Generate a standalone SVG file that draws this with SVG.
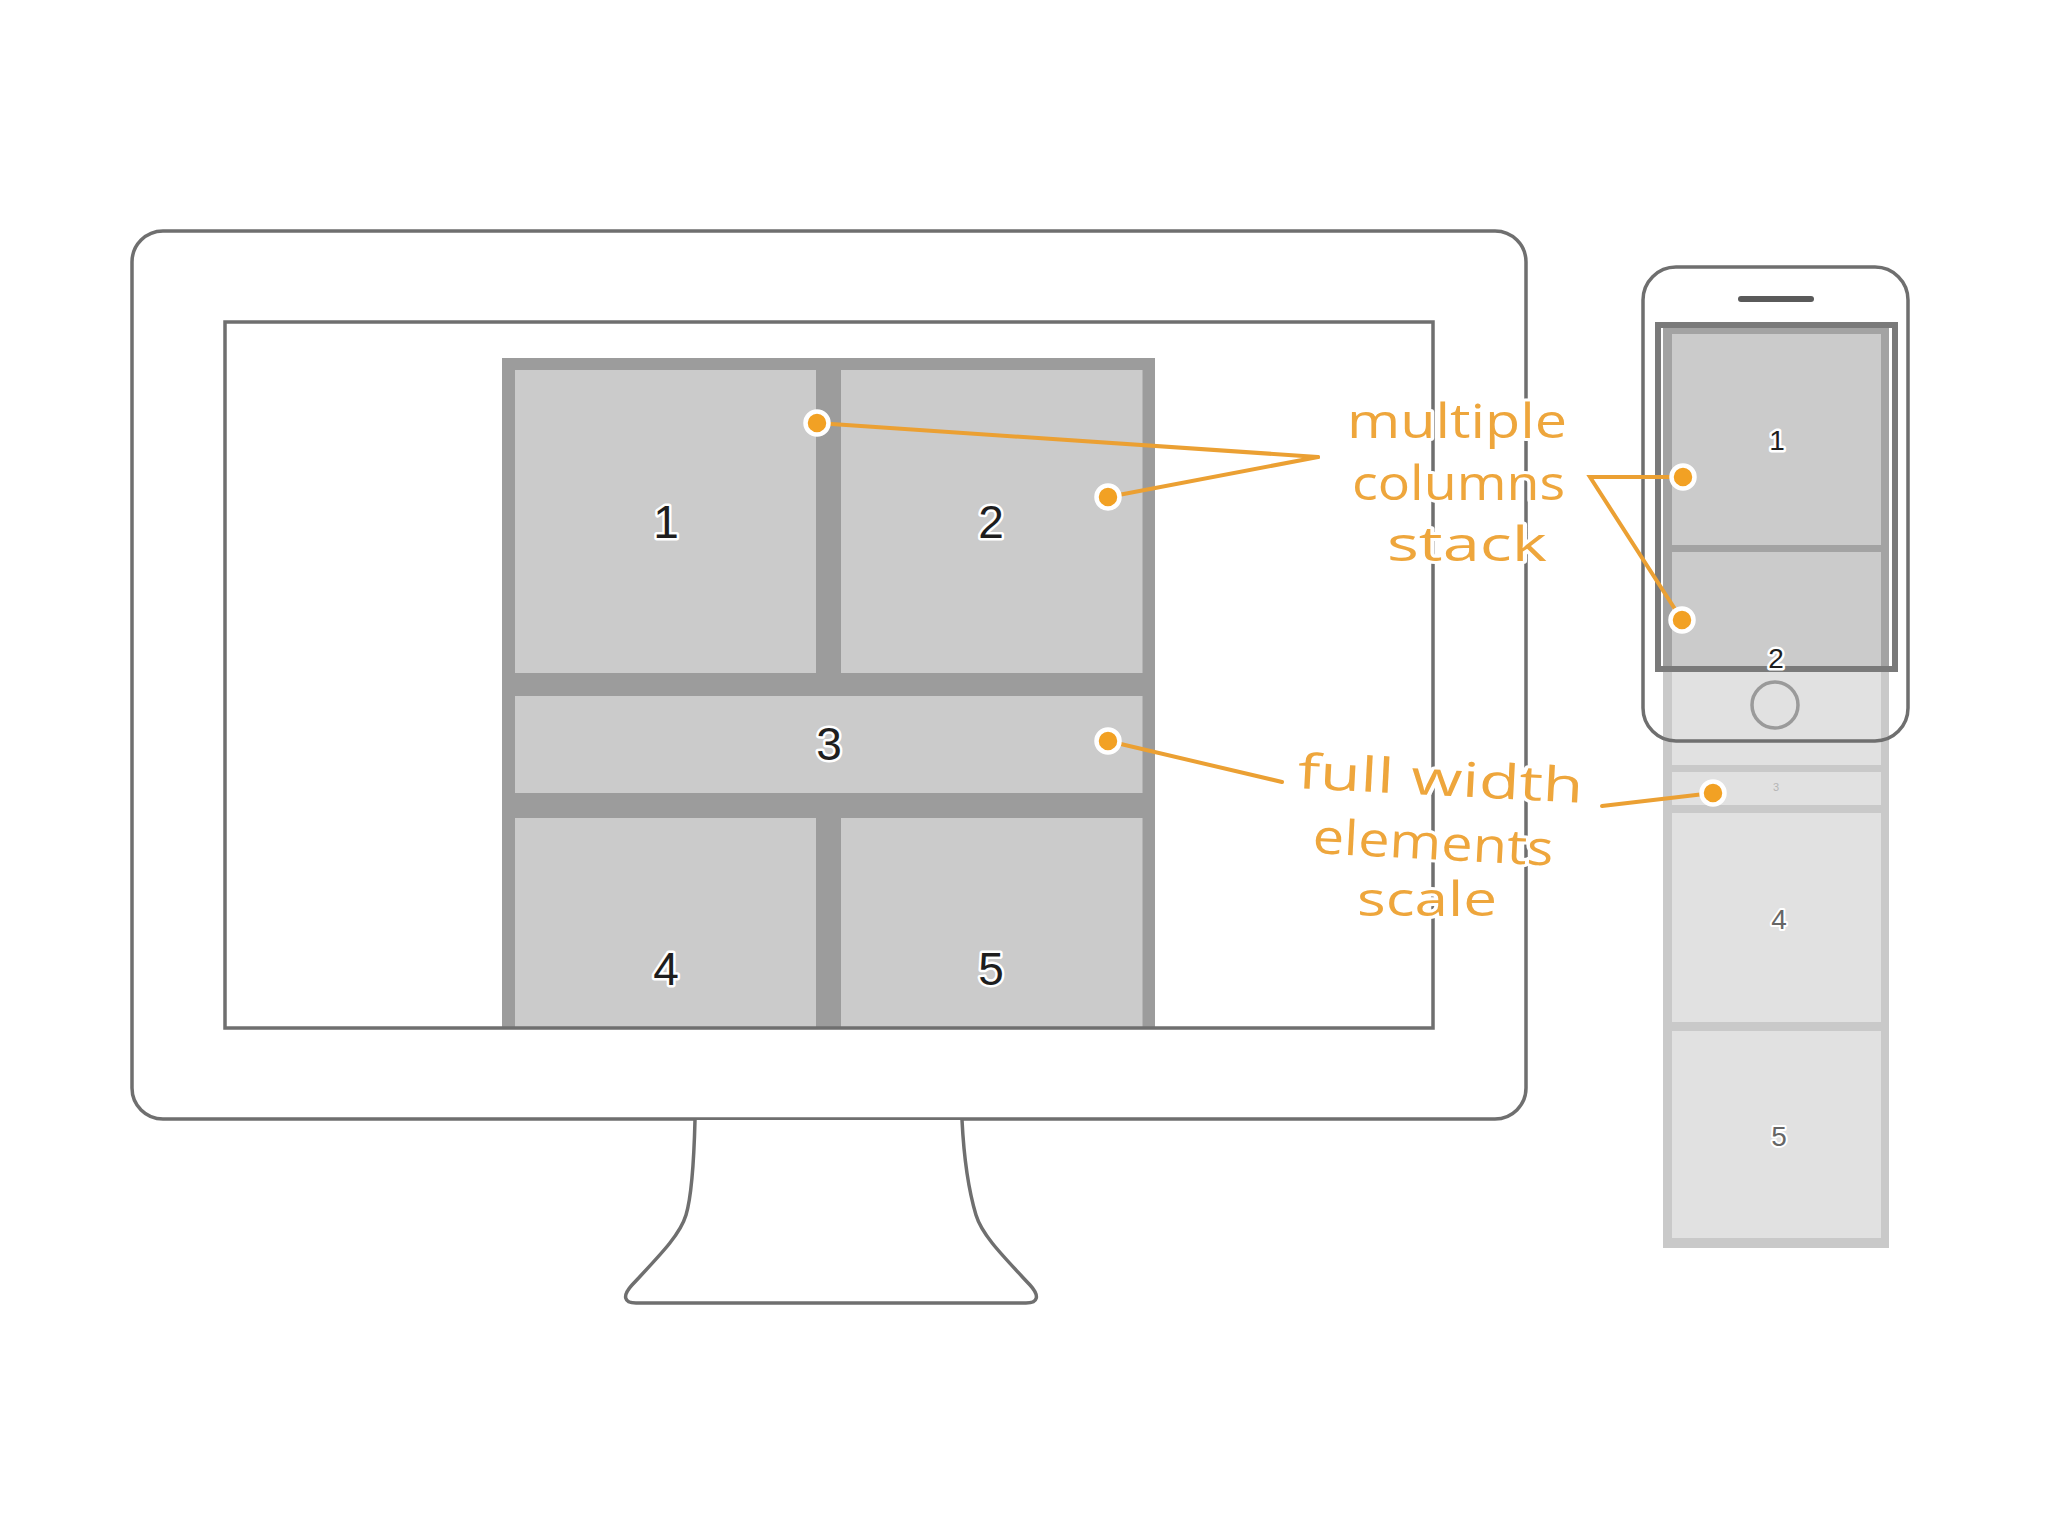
<svg xmlns="http://www.w3.org/2000/svg" width="2048" height="1536" viewBox="0 0 2048 1536">
  <style>
    .outline { fill: #ffffff; stroke: #6f6f6f; stroke-width: 3.5; }
    .frame { fill: #9c9c9c; }
    .cell { fill: #cbcbcb; }
    .frameL { fill: #c9c9c9; }
    .cellL { fill: #e1e1e1; }
    .num { font-family: "Liberation Sans", Arial, sans-serif; text-anchor: middle; fill: #1e1e1e; stroke: #ffffff; stroke-width: 5; paint-order: stroke; stroke-linejoin: round; }
    .numL { font-family: "Liberation Sans", Arial, sans-serif; text-anchor: middle; fill: #666666; stroke: #ffffff; stroke-width: 4; paint-order: stroke; stroke-linejoin: round; }
    .note { font-family: "Open Sans", "DejaVu Sans", sans-serif; font-size: 48px; fill: #eea63c; stroke: #ffffff; stroke-width: 6; paint-order: stroke; stroke-linejoin: round; }
    .conn { stroke: #eba033; stroke-width: 4; fill: none; stroke-linecap: round; }
    .dot { fill: #f2a124; stroke: #ffffff; stroke-width: 4.5; }
  </style>
  <defs>
    <clipPath id="monScreen"><rect x="225" y="322" width="1208" height="706"/></clipPath>
    <clipPath id="phoneScreen"><rect x="1655" y="322" width="243" height="350"/></clipPath>
  </defs>
  <rect width="2048" height="1536" fill="#ffffff"/>

  <g id="monitor">
    <rect class="outline" x="132" y="231" width="1394" height="888" rx="31"/>
    <path class="outline" fill="none" d="M 695 1120 C 694 1160 692 1195 686 1215 C 680 1235 660 1255 632 1285 C 622 1296 624 1303 636 1303 L 1026 1303 C 1038 1303 1040 1296 1030 1285 C 1002 1255 982 1235 976 1215 C 970 1195 964 1160 962 1120"/>
    <rect x="225" y="322" width="1208" height="706" fill="#ffffff"/>
    <g id="monitor-grid" clip-path="url(#monScreen)">
      <rect class="frame" x="502" y="358" width="653" height="775"/>
      <g id="m-cell-1"><rect class="cell" x="515" y="370" width="301" height="303"/><text class="num" x="666" y="538" font-size="46">1</text></g>
      <g id="m-cell-2"><rect class="cell" x="841" y="370" width="301.5" height="303"/><text class="num" x="991" y="538" font-size="46">2</text></g>
      <g id="m-cell-3"><rect class="cell" x="515" y="696" width="627.5" height="97"/><text class="num" x="829" y="760" font-size="46">3</text></g>
      <g id="m-cell-4"><rect class="cell" x="515" y="818" width="301" height="302"/><text class="num" x="666" y="985" font-size="46">4</text></g>
      <g id="m-cell-5"><rect class="cell" x="841" y="818" width="301.5" height="302"/><text class="num" x="991" y="985" font-size="46">5</text></g>
    </g>
    <rect x="225" y="322" width="1208" height="706" fill="none" stroke="#6f6f6f" stroke-width="3.5"/>
  </g>

  <g id="phone">
    <rect x="1643" y="267" width="265" height="474" rx="33" fill="#ffffff"/>
    <g id="phone-column-overflow">
      <rect class="frameL" x="1663" y="326" width="226" height="922"/>
      <rect class="cellL" x="1672" y="334" width="209" height="211"/>
      <rect class="cellL" x="1672" y="552" width="209" height="213"/>
      <rect class="cellL" x="1672" y="772" width="209" height="33"/>
      <rect class="cellL" x="1672" y="813" width="209" height="209"/>
      <rect class="cellL" x="1672" y="1031" width="209" height="207"/>
      <text x="1776" y="791" font-family="Liberation Sans, Arial, sans-serif" font-size="11" text-anchor="middle" fill="#b5b5b5">3</text>
      <text class="numL" x="1779" y="929" font-size="28">4</text>
      <text class="numL" x="1779" y="1146" font-size="28">5</text>
    </g>
    <g id="phone-column-screen" clip-path="url(#phoneScreen)">
      <rect x="1663" y="326" width="226" height="922" fill="#a3a3a3"/>
      <rect class="cell" x="1672" y="334" width="209" height="211"/>
      <rect class="cell" x="1672" y="552" width="209" height="213"/>
    </g>
    <rect x="1658" y="325" width="237" height="344" fill="none" stroke="#7a7a7a" stroke-width="6"/>
    <text class="num" x="1777" y="450" font-size="28">1</text>
    <text class="num" x="1776" y="668" font-size="28">2</text>
    <rect x="1643" y="267" width="265" height="474" rx="33" fill="none" stroke="#6f6f6f" stroke-width="3.5"/>
    <line x1="1741" y1="299" x2="1811" y2="299" stroke="#5a5a5a" stroke-width="6" stroke-linecap="round"/>
    <circle cx="1775" cy="705" r="23" fill="none" stroke="#9a9a9a" stroke-width="3.5"/>
  </g>

  <g id="connectors">
    <line class="conn" x1="817" y1="423" x2="1318" y2="457"/>
    <line class="conn" x1="1108" y1="497" x2="1318" y2="457"/>
    <line class="conn" x1="1108" y1="741" x2="1282" y2="782"/>
    <polyline class="conn" points="1683,477 1590,477 1682,620"/>
    <line class="conn" x1="1602" y1="806" x2="1713" y2="793"/>
    <circle class="dot" cx="817" cy="423" r="11.5"/>
    <circle class="dot" cx="1108" cy="497" r="11.5"/>
    <circle class="dot" cx="1108" cy="741" r="11.5"/>
    <circle class="dot" cx="1683" cy="477" r="11.5"/>
    <circle class="dot" cx="1682" cy="620" r="11.5"/>
    <circle class="dot" cx="1713" cy="793" r="11.5"/>
  </g>

  <g id="label-columns">
    <text class="note" x="1347" y="438" textLength="220" lengthAdjust="spacingAndGlyphs">multiple</text>
    <text class="note" x="1352" y="500" textLength="213" lengthAdjust="spacingAndGlyphs">columns</text>
    <text class="note" x="1387" y="561" textLength="160" lengthAdjust="spacingAndGlyphs">stack</text>
  </g>
  <g id="label-fullwidth">
    <text class="note" x="1297" y="788" textLength="286" lengthAdjust="spacingAndGlyphs" transform="rotate(3 1297 788)">full width</text>
    <text class="note" x="1312" y="853" textLength="241" lengthAdjust="spacingAndGlyphs" transform="rotate(3 1312 853)">elements</text>
    <text class="note" x="1357" y="916" textLength="140" lengthAdjust="spacingAndGlyphs">scale</text>
  </g>
</svg>
